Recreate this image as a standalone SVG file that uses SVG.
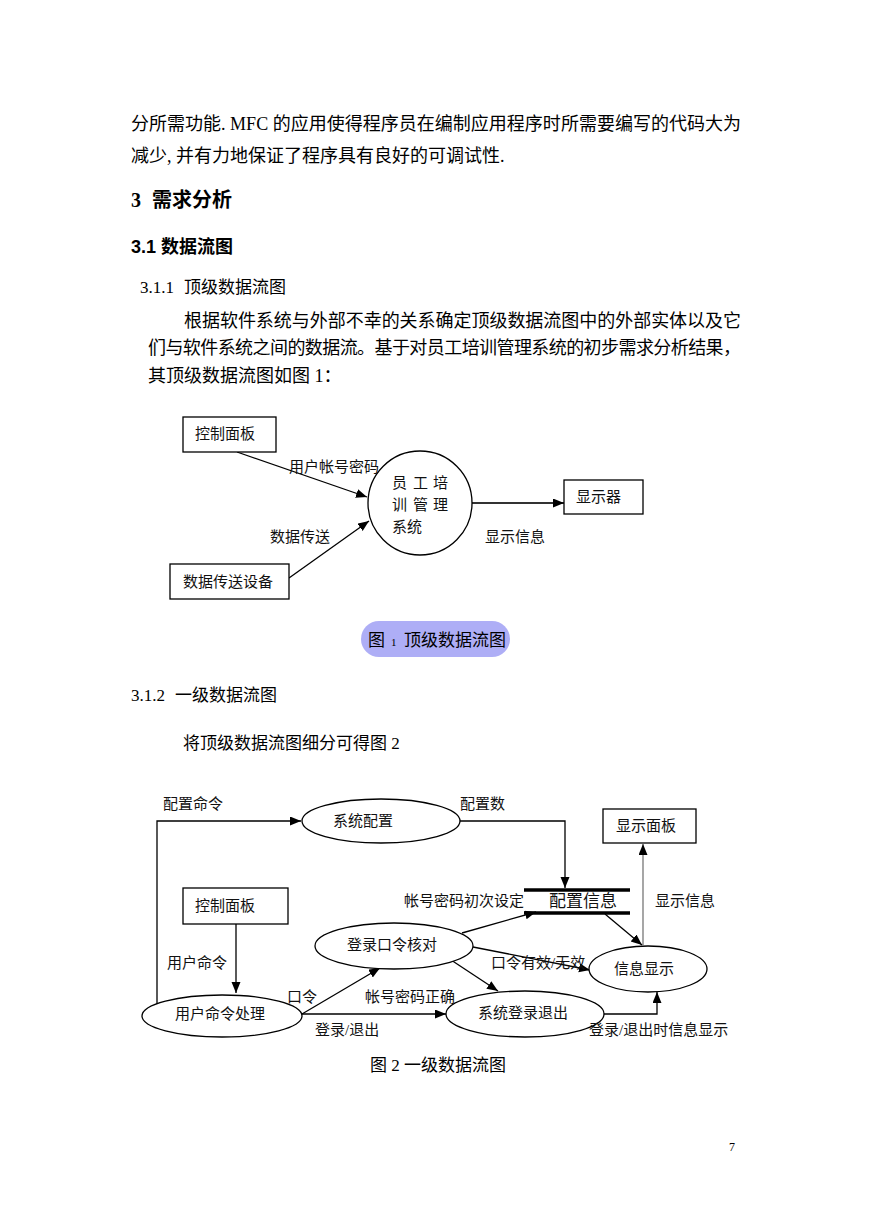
<svg xmlns="http://www.w3.org/2000/svg" width="869" height="1228" viewBox="0 0 869 1228">
<style>
text{font-family:"Liberation Serif","Noto Sans CJK SC",serif;fill:#000}
.b{font-size:18px}
.s{font-size:17px}
.h{font-weight:bold;font-family:"Liberation Sans","Noto Sans CJK SC",sans-serif}
.l{font-size:15px;fill:#111}
.box{fill:#fff;stroke:#000;stroke-width:1.3}
.ln{fill:none;stroke:#000;stroke-width:1.3}
.ar{marker-end:url(#ah)}
.ds{stroke:#000;stroke-width:3.5}
</style>
<defs>
<marker id="ah" markerUnits="userSpaceOnUse" markerWidth="12" markerHeight="10" refX="11" refY="4.5" orient="auto">
<path d="M0,0 L11,4.5 L0,9 Z" fill="#000"/>
</marker>
</defs>
<rect width="869" height="1228" fill="#fff"/>
<g id="body-text">
<text class="b" x="131" y="130" textLength="610" lengthAdjust="spacing">分所需功能. MFC 的应用使得程序员在编制应用程序时所需要编写的代码大为</text>
<text class="b" x="131" y="162">减少, 并有力地保证了程序具有良好的可调试性.</text>
<text class="h" x="131" y="207" style="font-size:20px"><tspan font-family="Liberation Serif">3</tspan><tspan x="152">需求分析</tspan></text>
<text class="h" x="131" y="253" style="font-size:18px">3.1 数据流图</text>
<text class="s" x="140" y="293">3.1.1<tspan x="184">顶级数据流图</tspan></text>
<text class="b" x="184" y="327" textLength="557" lengthAdjust="spacing">根据软件系统与外部不幸的关系确定顶级数据流图中的外部实体以及它</text>
<text class="b" x="148" y="354" textLength="593" lengthAdjust="spacing">们与软件系统之间的数据流。基于对员工培训管理系统的初步需求分析结果，</text>
<text class="b" x="148" y="382">其顶级数据流图如图 1：</text>
<text class="s" x="131" y="701">3.1.2<tspan x="175">一级数据流图</tspan></text>
<text class="s" x="183" y="749">将顶级数据流图细分可得图 2</text>
<text x="729" y="1151" style="font-size:12px">7</text>
</g>
<g id="fig1">
<g id="f1-connectors">
<line class="ln ar" x1="237" y1="452" x2="367" y2="497"/>
<line class="ln ar" x1="289" y1="578" x2="369" y2="521"/>
<line class="ar" x1="472" y1="503" x2="564" y2="503" stroke="#333" stroke-width="2"/>
</g>
<g id="f1-control"><rect class="box" x="183" y="417" width="93" height="35"/><text class="l" x="195" y="439">控制面板</text></g>
<g id="f1-device"><rect class="box" x="170" y="564" width="119" height="35"/><text class="l" x="183" y="587">数据传送设备</text></g>
<g id="f1-system"><circle class="box" cx="420" cy="503" r="52"/>
<text class="l"><tspan x="392" y="488">员</tspan><tspan x="413" y="488">工</tspan><tspan x="433" y="488">培</tspan><tspan x="392" y="510">训</tspan><tspan x="413" y="510">管</tspan><tspan x="433" y="510">理</tspan><tspan x="392" y="532">系统</tspan></text></g>
<g id="f1-display"><rect class="box" x="564" y="480" width="79" height="34"/><text class="l" x="576" y="502">显示器</text></g>
<g id="f1-labels">
<text class="l" x="289" y="472">用户帐号密码</text>
<text class="l" x="270" y="542">数据传送</text>
<text class="l" x="485" y="542">显示信息</text>
</g>
<g id="f1-caption">
<rect x="361" y="621" width="149" height="36" rx="18" fill="#aeaef6"/>
<text class="s" x="368" y="646">图</text>
<text x="391" y="646" style="font-size:11px">1</text>
<text class="s" x="404" y="646">顶级数据流图</text>
</g>
</g>
<g id="fig2">
<g id="f2-connectors">
<polyline class="ln ar" points="157,1004 157,821 301,821"/>
<polyline class="ln ar" points="460,821 565,821 565,888"/>
<line class="ds" x1="524" y1="890" x2="630" y2="890"/>
<line class="ds" x1="524" y1="913" x2="630" y2="913"/>
<line class="ar" x1="643" y1="945" x2="643" y2="844" stroke="#777" stroke-width="1.3"/>
<line class="ln ar" x1="605" y1="914" x2="642" y2="945"/>
<line class="ln ar" x1="462" y1="933" x2="536" y2="912"/>
<line class="ln ar" x1="473" y1="947" x2="590" y2="970"/>
<line class="ln ar" x1="445" y1="956" x2="498" y2="991"/>
<line class="ln ar" x1="236" y1="924" x2="236" y2="993"/>
<line class="ln ar" x1="302" y1="1014" x2="380" y2="968"/>
<line class="ln ar" x1="302" y1="1014" x2="446" y2="1014"/>
<polyline class="ln ar" points="604,1014 657,1014 657,992"/>
</g>
<g id="f2-config"><ellipse class="box" cx="381" cy="821" rx="79" ry="22"/><text class="l" x="333" y="826">系统配置</text></g>
<g id="f2-panel"><rect class="box" x="603" y="809" width="93" height="34"/><text class="l" x="616" y="831">显示面板</text></g>
<g id="f2-store"><text x="549" y="907" style="font-size:17px;fill:#111">配置信息</text></g>
<g id="f2-control"><rect class="box" x="183" y="888" width="105" height="36"/><text class="l" x="195" y="911">控制面板</text></g>
<g id="f2-check"><ellipse class="box" cx="394" cy="946" rx="79" ry="23"/><text class="l" x="347" y="950">登录口令核对</text></g>
<g id="f2-info"><ellipse class="box" cx="648" cy="969" rx="59" ry="23"/><text class="l" x="614" y="974">信息显示</text></g>
<g id="f2-user"><ellipse class="box" cx="222" cy="1016" rx="80" ry="21"/><text class="l" x="175" y="1019">用户命令处理</text></g>
<g id="f2-login"><ellipse class="box" cx="525" cy="1014" rx="79" ry="23"/><text class="l" x="478" y="1018">系统登录退出</text></g>
<g id="f2-labels">
<text class="l" x="163" y="809">配置命令</text>
<text class="l" x="460" y="809">配置数</text>
<text class="l" x="404" y="906">帐号密码初次设定</text>
<text class="l" x="655" y="906">显示信息</text>
<text class="l" x="167" y="968">用户命令</text>
<text class="l" x="491" y="968">口令有效/无效</text>
<text class="l" x="287" y="1002">口令</text>
<text class="l" x="365" y="1002">帐号密码正确</text>
<text class="l" x="315" y="1035">登录/退出</text>
<text class="l" x="589" y="1035">登录/退出时信息显示</text>
</g>
<g id="f2-caption"><text class="s" x="370" y="1071">图 2 一级数据流图</text></g>
</g>
</svg>
